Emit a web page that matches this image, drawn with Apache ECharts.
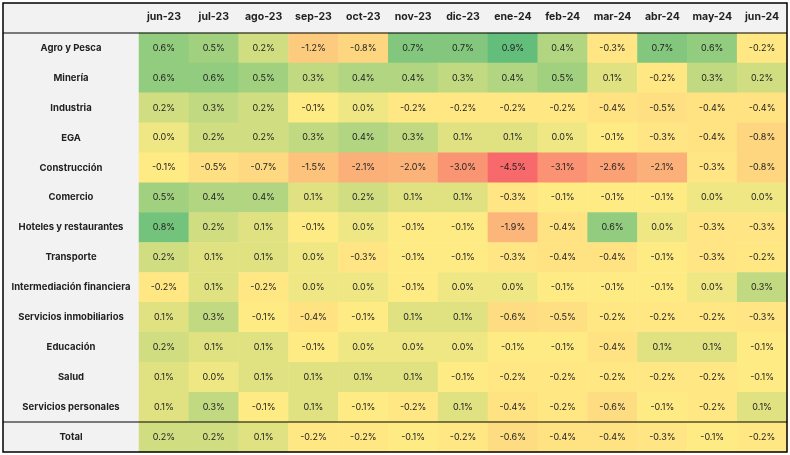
<!DOCTYPE html>
<html><head><meta charset="utf-8">
<script src="https://cdn.jsdelivr.net/npm/echarts@6/dist/echarts.min.js"></script>
<style>html,body{margin:0;padding:0;background:#fff}#c{width:790px;height:455px}</style>
</head><body><div id="c"></div>
<script>
var months = ['jun-23','jul-23','ago-23','sep-23','oct-23','nov-23','dic-23','ene-24','feb-24','mar-24','abr-24','may-24','jun-24'];
var sectors = ['Agro y Pesca','Minería','Industria','EGA','Construcción','Comercio','Hoteles y restaurantes','Transporte','Intermediación financiera','Servicios inmobiliarios','Educación','Salud','Servicios personales','Total'];
var agro      = [0.6, 0.5, 0.2, -1.2, -0.8, 0.7, 0.7, 0.9, 0.4, -0.3, 0.7, 0.6, -0.2];
var mineria   = [0.6, 0.6, 0.5, 0.3, 0.4, 0.4, 0.3, 0.4, 0.5, 0.1, -0.2, 0.3, 0.2];
var industria = [0.2, 0.3, 0.2, -0.1, 0.0, -0.2, -0.2, -0.2, -0.2, -0.4, -0.5, -0.4, -0.4];
var ega       = [0.0, 0.2, 0.2, 0.3, 0.4, 0.3, 0.1, 0.1, 0.0, -0.1, -0.3, -0.4, -0.8];
var construccion = [-0.1, -0.5, -0.7, -1.5, -2.1, -2.0, -3.0, -4.5, -3.1, -2.6, -2.1, -0.3, -0.8];
var comercio  = [0.5, 0.4, 0.4, 0.1, 0.2, 0.1, 0.1, -0.3, -0.1, -0.1, -0.1, 0.0, 0.0];
var hoteles   = [0.8, 0.2, 0.1, -0.1, 0.0, -0.1, -0.1, -1.9, -0.4, 0.6, 0.0, -0.3, -0.3];
var transporte = [0.2, 0.1, 0.1, 0.0, -0.3, -0.1, -0.1, -0.3, -0.4, -0.4, -0.1, -0.3, -0.2];
var intermediacion = [-0.2, 0.1, -0.2, 0.0, 0.0, -0.1, 0.0, 0.0, -0.1, -0.1, -0.1, 0.0, 0.3];
var inmobiliarios = [0.1, 0.3, -0.1, -0.4, -0.1, 0.1, 0.1, -0.6, -0.5, -0.2, -0.2, -0.2, -0.3];
var educacion = [0.2, 0.1, 0.1, -0.1, 0.0, 0.0, 0.0, -0.1, -0.1, -0.4, 0.1, 0.1, -0.1];
var salud     = [0.1, 0.0, 0.1, 0.1, 0.1, 0.1, -0.1, -0.2, -0.2, -0.2, -0.2, -0.2, -0.1];
var personales = [0.1, 0.3, -0.1, 0.1, -0.1, -0.2, 0.1, -0.4, -0.2, -0.6, -0.1, -0.2, 0.1];
var total     = [0.2, 0.2, 0.1, -0.2, -0.2, -0.1, -0.2, -0.6, -0.4, -0.4, -0.3, -0.1, -0.2];

var rows = [agro, mineria, industria, ega, construccion, comercio, hoteles, transporte, intermediacion, inmobiliarios, educacion, salud, personales, total];

// Excel-like 3-colour scale: min red, median yellow, max green
var all = [];
rows.forEach(function(r){ r.forEach(function(v){ all.push(v); }); });
var sorted = all.slice().sort(function(a,b){return a-b;});
var vmin = sorted[0], vmax = sorted[sorted.length-1];
var n = sorted.length, mid = (n%2) ? sorted[(n-1)/2] : (sorted[n/2-1]+sorted[n/2])/2;
var RED=[248,105,107], YEL=[255,235,132], GRN=[99,190,123];
function mix(a,b,t){ return 'rgb('+a.map(function(x,i){return Math.round(x+(b[i]-x)*t);}).join(',')+')'; }
function colorFor(v){
  if (v <= mid) return mix(RED, YEL, (v - vmin) / (mid - vmin));
  return mix(YEL, GRN, (v - mid) / (vmax - mid));
}

var data = [];
rows.forEach(function(r, yi){
  r.forEach(function(v, xi){
    data.push({value:[xi, yi, v], itemStyle:{color: colorFor(v)}});
  });
});

var FONT = 'Inter';
var chart = echarts.init(document.getElementById('c'));
chart.setOption({
  animation:false,
  backgroundColor:'#fff',
  grid:{left:139, right:3, top:33, bottom:3},
  xAxis:{type:'category', data:months, position:'top',
    axisLine:{show:false}, axisTick:{show:false}, splitLine:{show:false},
    axisLabel:{interval:0, margin:11, color:'#222', fontFamily:FONT, fontWeight:'bold', fontSize:10.5}},
  yAxis:{type:'category', data:sectors, inverse:true,
    axisLine:{show:false}, axisTick:{show:false}, splitLine:{show:false},
    axisLabel:{interval:0, margin:68, align:'center', color:'#222', fontFamily:FONT, fontWeight:'bold', fontSize:9.5}},
  graphic:[
    {type:'rect', z:-10, silent:true, shape:{x:3, y:3, width:784, height:30}, style:{fill:'#f2f2f2'}},
    {type:'rect', z:-10, silent:true, shape:{x:3, y:33, width:136, height:419}, style:{fill:'#f2f2f2'}},
    {type:'line', z:100, silent:true, shape:{x1:3, y1:33, x2:787, y2:33}, style:{stroke:'#000', lineWidth:1.2}},
    {type:'line', z:100, silent:true, shape:{x1:3, y1:422, x2:787, y2:422}, style:{stroke:'#000', lineWidth:1.2}},
    {type:'rect', z:100, silent:true, shape:{x:3, y:3, width:784, height:449}, style:{fill:null, stroke:'#000', lineWidth:1.5}}
  ],
  series:[{type:'heatmap', data:data,
    label:{show:true, color:'#222', fontFamily:FONT, fontSize:9,
      formatter:function(p){ return p.value[2].toFixed(1)+'%'; }},
    emphasis:{disabled:true}
  }]
});
</script></body></html>
